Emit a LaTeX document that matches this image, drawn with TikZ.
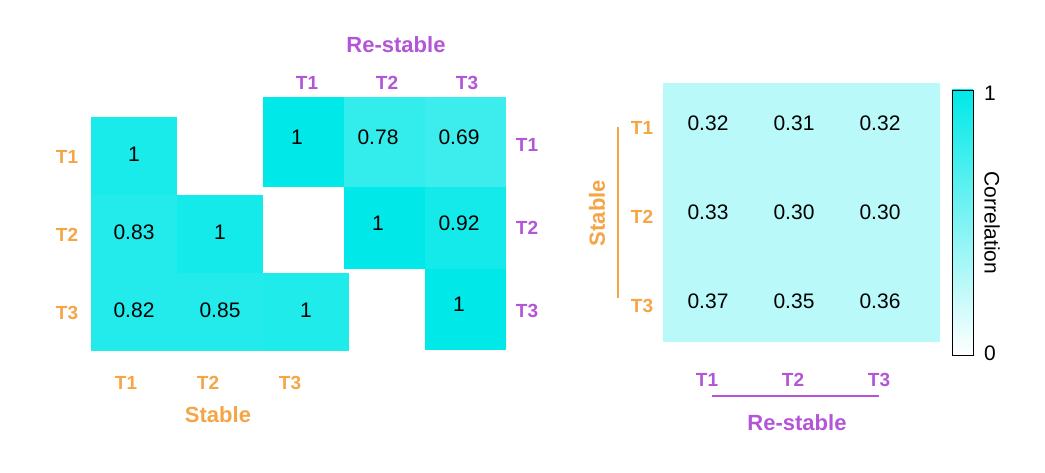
\documentclass[tikz,border=0pt]{standalone}
\usepackage{fontspec}
\setmainfont{Liberation Sans}
\usetikzlibrary{positioning}
\definecolor{corr}{RGB}{0,232,232}
\definecolor{stab}{RGB}{245,165,70}
\definecolor{restab}{RGB}{180,85,215}
\tikzset{
  cellnum/.style={font=\fontsize{21}{21}\selectfont},
  stablab/.style={text=stab,font=\bfseries\fontsize{19}{19}\selectfont},
  relab/.style={text=restab,font=\bfseries\fontsize{19}{19}\selectfont},
  titlab/.style={font=\bfseries\fontsize{22}{22}\selectfont},
}
\begin{document}
\begin{tikzpicture}[x=1pt,y=-1pt]
\useasboundingbox (0,0) rectangle (1045,473);

% Stable (lower triangle)
\foreach \c/\r/\v/\m in {1/1/1/90, 1/2/0.83/86, 2/2/1/92, 1/3/0.82/86, 2/3/0.85/86, 3/3/1/88}{
  \fill[corr!\m!white] ({91+(\c-1)*86},{117+(\r-1)*78}) rectangle ++(86,78);
  \node[cellnum] (s\c\r) at ({134+(\c-1)*86},{154+(\r-1)*78}) {\v};
}
% Re-stable (upper triangle)
\foreach \c/\r/\v/\m/\ya/\yb in {1/1/1/100/97/187, 2/1/0.78/80/97/187, 3/1/0.69/76/97/187, 2/2/1/100/187/269, 3/2/0.92/92/187/269, 3/3/1/100/269/350}{
  \fill[corr!\m!white] ({263+(\c-1)*81},\ya) rectangle ({263+\c*81},\yb);
  \node[cellnum] (r\c\r) at ({297+(\c-1)*81},{(\ya+\yb)/2-5}) {\v};
}

\foreach \i in {1,2,3}{
  \node[stablab] (sl\i) at (67,{157+(\i-1)*78}) {T\i};
  \node[stablab] (sb\i) at ({126+(\i-1)*82},383) {T\i};
  \node[relab] (rt\i) at ({307+(\i-1)*80},83) {T\i};
  \node[relab] (rr\i) at (527,{145+(\i-1)*83}) {T\i};
}
\node[stablab,titlab] (stab) at (218,415) {Stable};
\node[relab,titlab] (rest) at (396,45) {Re-stable};

% right matrix
\foreach \r/\va/\vb/\vc in {1/0.32/0.31/0.32, 2/0.33/0.30/0.30, 3/0.37/0.35/0.36}{
  \foreach \c/\v in {1/\va,2/\vb,3/\vc}{
    \fill[corr!27!white] ({663+(\c-1)*92},{83+(\r-1)*86}) rectangle ++(93,87);
    \node[cellnum] (m\c\r) at ({708+(\c-1)*86},{123+(\r-1)*89}) {\v};
  }
  \node[stablab] (ml\r) at (642,{128+(\r-1)*89}) {T\r};
  \node[relab] (mb\r) at ({707+(\r-1)*86},380) {T\r};
}
\draw[stab,line width=1.5pt] (618,127) -- (618,298);
\node[stablab,titlab,rotate=90] (mstab) at (597,213) {Stable};
\draw[restab,line width=1.5pt] (712,396) -- (879,396);
\node[relab,titlab] (mrest) at (797,423) {Re-stable};

% colorbar
\shade[top color=corr,bottom color=white] (952,90) rectangle (973,355);
\draw[line width=0.6pt] (952,90) rectangle (973,355);
\node[cellnum] (cb1) at (990,93) {1};
\node[cellnum] (cb0) at (990,353) {0};
\node[cellnum,rotate=-90] (cbl) at (992,223) {Correlation};
\end{tikzpicture}
\end{document}
